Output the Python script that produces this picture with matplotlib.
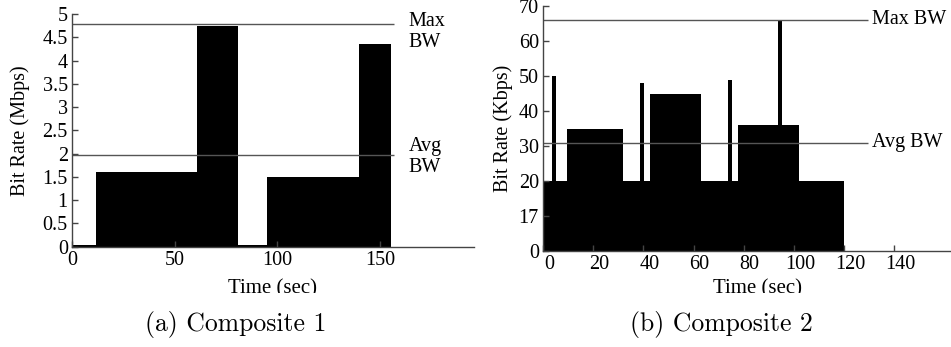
# Bit rate over time for the two composite streams
import numpy as np
import matplotlib.pyplot as plt
from matplotlib.transforms import ScaledTranslation, Bbox, TransformedBbox

plt.rcParams['font.family'] = 'serif'
plt.rcParams['font.serif'] = ['Liberation Serif', 'DejaVu Serif']
plt.rcParams['font.size'] = 14.5

# (a) Composite 1, rate in Mbps
a_start = [0, 11.5, 60.8, 80.8, 95, 140]
a_end = [11.5, 60.8, 80.8, 95, 140, 155.2]
a_rate = [0.03, 1.6, 4.75, 0.03, 1.5, 4.35]
a_max_bw = 4.78
a_avg_bw = 1.97
a_yticks = [0, 0.5, 1, 1.5, 2, 2.5, 3, 3.5, 4, 4.5, 5]
a_ylabels = ['0', '0.5', '1', '1.5', '2', '2.5', '3', '3.5', '4', '4.5', '5']
a_xticks = [0, 50, 100, 150]

# (b) Composite 2, rate in Kbps
b_start = [0, 3.7, 5.1, 9.6, 32, 38.8, 40.1, 42.7, 63, 73.7, 75.3, 77.7, 93.7, 95.3, 102]
b_end = b_start[1:] + [120]
b_rate = [20, 50, 20, 35, 20, 48, 20, 45, 20, 49, 20, 36, 66, 36, 20]
b_max_bw = 66
b_avg_bw = 31
b_yticks = [0, 10, 20, 30, 40, 50, 60, 70]
b_ylabels = ['0', '17', '20', '30', '40', '50', '60', '70']
b_xticks = [0, 20, 40, 60, 80, 100, 120, 140]

fig = plt.figure(figsize=(9.51, 3.47), dpi=100)
ax1 = fig.add_axes([72/951, 1-246.7/347, 402/951, 232.7/347])
ax2 = fig.add_axes([543/951, 1-251/347, 429/951, 245/347])

spine_col = '#444444'
line_col = '#555555'

def style(ax):
    for s in ['top', 'right']:
        ax.spines[s].set_visible(False)
    for s in ['left', 'bottom']:
        ax.spines[s].set_color(spine_col)
        ax.spines[s].set_linewidth(1)
    ax.tick_params(direction='in', length=4.5, color=spine_col, width=1, pad=3)

# ---- plot (a)
w = np.array(a_end) - np.array(a_start)
ax1.bar(a_start, a_rate, width=w, align='edge', color='black', linewidth=0)
ax1.hlines([a_max_bw, a_avg_bw], 0, 156.6, color=line_col, lw=1)
ax1.text(164, a_max_bw + 0.27, 'Max\nBW', va='top', ha='left', linespacing=1.15)
ax1.text(164, a_avg_bw + 0.39, 'Avg\nBW', va='top', ha='left', linespacing=1.15)
ax1.set_xlim(0, 195.8)
ax1.set_ylim(0, 5)
ax1.set_yticks(a_yticks)
ax1.set_yticklabels(a_ylabels)
ax1.set_xticks(a_xticks)
ax1.set_xlabel('Time (sec)', size=15)
ax1.set_ylabel('Bit Rate (Mbps)')
ax1.xaxis.set_label_coords(0.5, -0.14)
ax1.yaxis.set_label_coords(-0.104, 0.5)
style(ax1)

# ---- plot (b)
w = np.array(b_end) - np.array(b_start)
ax2.bar(b_start, b_rate, width=w, align='edge', color='black', linewidth=0)
ax2.hlines([b_max_bw, b_avg_bw], 0, 129.7, color=line_col, lw=1)
ax2.text(131.3, b_max_bw, 'Max BW', va='center', ha='left')
ax2.text(131.3, b_avg_bw, 'Avg BW', va='center', ha='left')
ax2.set_xlim(0, 171)
ax2.set_ylim(0, 70)
ax2.set_yticks(b_yticks)
ax2.set_yticklabels(b_ylabels)
ax2.set_xticks(b_xticks)
ax2.set_xlabel('Time (sec)', size=15)
ax2.set_ylabel('Bit Rate (Kbps)')
ax2.xaxis.set_label_coords(0.5, -0.115)
ax2.yaxis.set_label_coords(-0.07, 0.5)
style(ax2)

# tick labels of (b) sit a little right of their ticks
shift = ScaledTranslation(6/100, 0, fig.dpi_scale_trans)
for lab in ax2.get_xticklabels():
    lab.set_transform(lab.get_transform() + shift)

# the x labels are cut off at the bottom in the original
clip = TransformedBbox(Bbox([[0, 1-293/347], [1, 1]]), fig.transFigure)
for ax in [ax1, ax2]:
    ax.xaxis.label.set_clip_box(clip)
    ax.xaxis.label.set_clip_on(True)

fig.text(236/951, 1-324/347, '(a) Composite 1', ha='center', va='center',
         family='cmr10', size=18.5)
fig.text(721/951, 1-324/347, '(b) Composite 2', ha='center', va='center',
         family='cmr10', size=18.5)

fig.savefig('out.png', dpi=100)
